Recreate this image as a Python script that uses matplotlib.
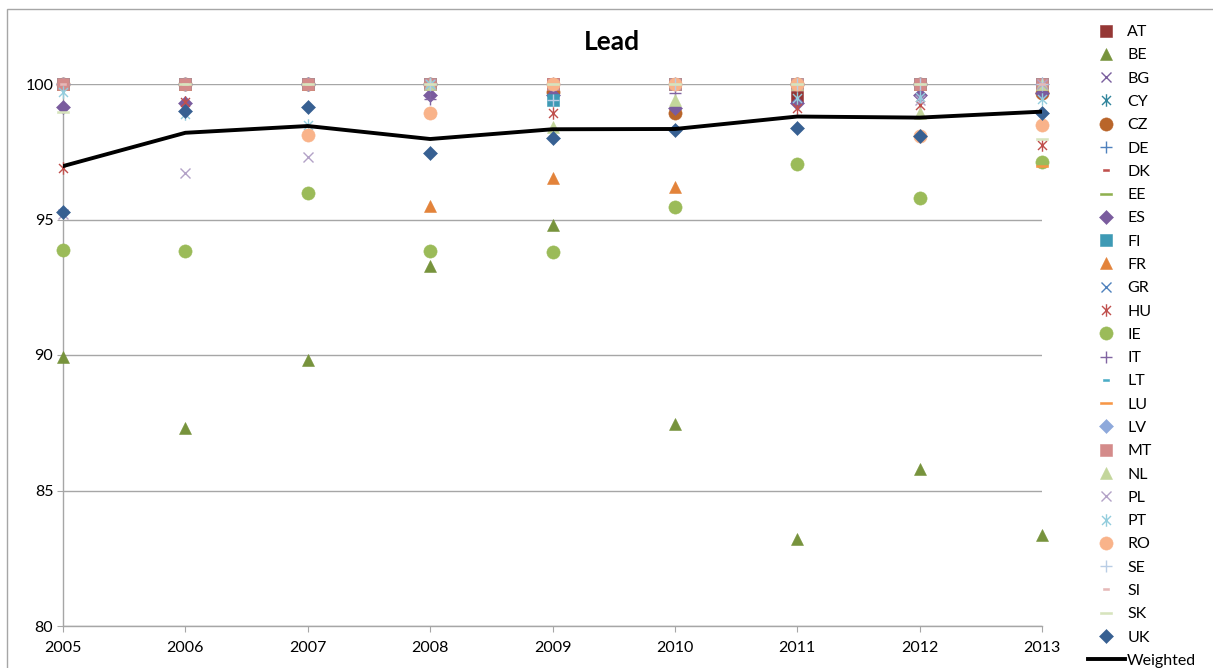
import numpy as np
import matplotlib
matplotlib.use('Agg')
import matplotlib.pyplot as plt
from matplotlib.path import Path
from matplotlib.patches import Rectangle

plt.rcParams['font.family'] = ['Lato', 'DejaVu Sans']

nan = np.nan
years = [2005, 2006, 2007, 2008, 2009, 2010, 2011, 2012, 2013]

AT = [100, 100, 100, 100, 100, 100, 99.53, 100, 100]
BE = [89.94, 87.3, 89.8, 93.3, 94.8, 87.45, 83.2, 85.8, 83.36]
BG = [100, 100, 100, 100, 100, 100, 100, 100, 100]
CY = [100, 100, 100, 100, 100, 100, 100, 100, 100]
CZ = [100, 100, 100, 100, 99.69, 98.94, 100, 100, 99.66]
DE = [100, 100, 100, 100, 100, 100, 100, 100, 100]
DK = [100, 100, 100, 100, 100, 100, 100, 100, 100]
EE = [100, 100, 100, 100, 100, 100, 100, 100, 100]
ES = [99.16, 99.3, 100, 99.6, 99.6, 99.1, 99.3, 99.6, 99.66]
FI = [100, 100, 100, 100, 99.41, 100, 100, 100, 100]
FR = [100, 100, 100, 95.5, 96.52, 96.2, 100, 100, 100]
GR = [100, 100, 100, 100, 100, 100, 100, 100, 100]
HU = [96.89, 99.35, 100, 98.94, 98.92, 95.45, 99.1, 99.22, 97.75]
IE = [93.88, 93.85, 95.97, 93.83, 93.8, 95.45, 97.04, 95.8, 97.13]
IT = [100, 100, 100, 99.45, 100, 99.65, 100, 99.6, 100]
LT = [100, 100, 100, 100, 100, 100, 100, 100, 100]
LU = [100, 100, 100, 100, 100, 100, 100, 100, 96.97]
LV = [100, 100, 100, 100, 100, 100, 100, 100, 100]
MT = [100, 100, 100, 100, 100, 100, 100, 100, 100]
NL = [nan, nan, nan, 100, 98.43, 99.41, 100, 98.92, 100]
PL = [95.2, 96.73, 97.3, 100, 100, 100, 100, 99.4, 100]
PT = [99.72, 98.9, 98.49, 100, 100, 100, 99.47, 99.53, 99.44]
RO = [nan, nan, 98.12, 98.94, 100, 100, 100, 98.08, 98.49]
SE = [nan, nan, nan, 100, 99.41, 100, 100, 100, 100]
SI = [100, 100, 100, 100, 100, 100, 100, 100, 100]
SK = [98.98, 100, 100, 100, 100, 100, 100, 100, 97.96]
UK = [95.28, 99.0, 99.16, 97.44, 98.02, 98.3, 98.39, 98.08, 98.94]
weighted = [96.97, 98.2, 98.45, 97.97, 98.33, 98.34, 98.8, 98.76, 98.98]

countries = ['AT', 'BE', 'BG', 'CY', 'CZ', 'DE', 'DK', 'EE', 'ES', 'FI', 'FR', 'GR', 'HU',
             'IE', 'IT', 'LT', 'LU', 'LV', 'MT', 'NL', 'PL', 'PT', 'RO', 'SE', 'SI', 'SK', 'UK']
series = [AT, BE, BG, CY, CZ, DE, DK, EE, ES, FI, FR, GR, HU,
          IE, IT, LT, LU, LV, MT, NL, PL, PT, RO, SE, SI, SK, UK]

# excel-like marker shapes
asterisk = Path([(0, -1), (0, 1), (-0.72, -0.72), (0.72, 0.72), (-0.72, 0.72), (0.72, -0.72)],
                [Path.MOVETO, Path.LINETO] * 3)
long_dash = Path([(-1, -0.22), (1, -0.22), (1, 0.22), (-1, 0.22), (-1, -0.22)])
short_dash = Path([(-1, -0.4), (1, -0.4), (1, 0.4), (-1, 0.4), (-1, -0.4)])

# (marker, colour, size, filled)
styles = {
    'AT': ('s', '#953735', 8.5, True),
    'BE': ('^', '#77933C', 9, True),
    'BG': ('x', '#7A5F9E', 7.5, False),
    'CY': (asterisk, '#31859C', 9, False),
    'CZ': ('o', '#B9652A', 9.5, True),
    'DE': ('+', '#4F81BD', 9, False),
    'DK': (short_dash, '#C0504D', 5, True),
    'EE': (long_dash, '#8FB04F', 8.5, True),
    'ES': ('D', '#7A5C9E', 7, True),
    'FI': ('s', '#3E9AB5', 8.5, True),
    'FR': ('^', '#E3833A', 9, True),
    'GR': ('x', '#4F81BD', 7.5, False),
    'HU': (asterisk, '#C0504D', 9, False),
    'IE': ('o', '#9BBB59', 9.5, True),
    'IT': ('+', '#8064A2', 9, False),
    'LT': (short_dash, '#4BACC6', 5, True),
    'LU': (long_dash, '#F79646', 8.5, True),
    'LV': ('D', '#8EA9DB', 7, True),
    'MT': ('s', '#D48B8A', 8.5, True),
    'NL': ('^', '#C3D69B', 9, True),
    'PL': ('x', '#B3A2C7', 7.5, False),
    'PT': (asterisk, '#93CDDD', 9, False),
    'RO': ('o', '#F9B38A', 9.5, True),
    'SE': ('+', '#B9CDE5', 9, False),
    'SI': (short_dash, '#E6B9B8', 5, True),
    'SK': (long_dash, '#D7E4BD', 8.5, True),
    'UK': ('D', '#376092', 7, True),
}

fig = plt.figure(figsize=(12.13, 6.68), dpi=100)
W, H = 1213, 668
ax = fig.add_axes([63 / W, 1 - 626 / H, (1042 - 63) / W, (626 - 84) / H])

for name, vals in zip(countries, series):
    m, c, s, filled = styles[name]
    if filled:
        ax.plot(years, vals, linestyle='none', marker=m, markersize=s, color=c,
                markeredgecolor=c, markeredgewidth=0.4, label=name, clip_on=False, zorder=3)
    else:
        ax.plot(years, vals, linestyle='none', marker=m, markersize=s, color=c,
                markeredgewidth=1.0, label=name, clip_on=False, zorder=3)

ax.plot(years, weighted, color='black', lw=2.8, label='Weighted', zorder=4)

ax.set_xlim(2005, 2013)
ax.set_ylim(80, 100)
ax.set_xticks(years)
ax.set_yticks([80, 85, 90, 95, 100])
ax.yaxis.grid(True, color='#A6A6A6', lw=1)
ax.set_axisbelow(True)
for sp in ['top', 'right']:
    ax.spines[sp].set_visible(False)
for sp in ['left', 'bottom']:
    ax.spines[sp].set_color('#A6A6A6')
    ax.spines[sp].set_linewidth(1)
ax.tick_params(axis='both', direction='out', length=4, color='#A6A6A6', labelsize=11.5, pad=3)
ax.tick_params(axis='x', pad=7)

fig.text(612 / W, 1 - 42 / H, 'Lead', ha='center', va='center', fontsize=19, fontweight='bold')

fig.legend(loc='upper left', bbox_to_anchor=(1088 / W, 1 - 25 / H), frameon=False,
           fontsize=11.5, labelspacing=0.57, handlelength=2.3, handletextpad=0.15,
           borderpad=0, borderaxespad=0)

fig.patches.append(Rectangle((7 / W, -0.05), 1.1, 1 - 9 / H + 0.05, transform=fig.transFigure,
                             fill=False, edgecolor='#A6A6A6', lw=1))

fig.savefig('out.png', dpi=100)
